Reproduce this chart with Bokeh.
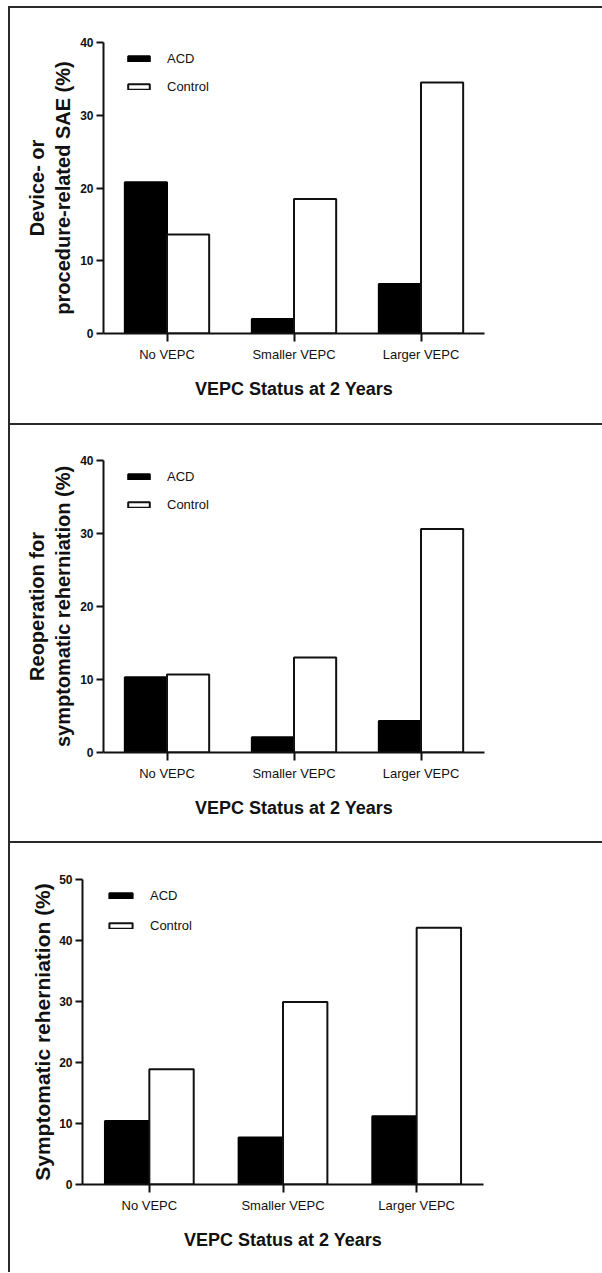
from bokeh.plotting import figure
from bokeh.models import ColumnDataSource, FactorRange, FixedTicker, Legend, LegendItem
from bokeh.transform import dodge
from bokeh.embed import file_html
from bokeh.resources import INLINE

categories = ["No VEPC", "Smaller VEPC", "Larger VEPC"]
sae_acd = [20.8, 2.0, 6.8]
sae_control = [13.6, 18.5, 34.5]
reop_acd = [10.3, 2.1, 4.3]
reop_control = [10.7, 13.0, 30.6]
rehern_acd = [10.4, 7.7, 11.2]
rehern_control = [18.9, 29.9, 42.1]
series_names = ["ACD", "Control"]
x_title = "VEPC Status at 2 Years"

FONT = "Liberation Sans"
INK = "#111111"


def panel(acd, ctrl, ymax, yticks, ytitle, ytitle_size, fw, fh, bl, bt, bb, br,
          leg_x, leg_y, leg_spacing, glyph_w, ytitle_standoff, top_margin):
    src = ColumnDataSource(dict(cat=categories, acd=acd, ctrl=ctrl))
    p = figure(x_range=FactorRange(*categories, range_padding=0),
               y_range=(0, ymax),
               frame_width=fw, frame_height=fh,
               min_border_left=bl, min_border_top=bt,
               min_border_bottom=bb, min_border_right=br,
               output_backend="svg", toolbar_location=None,
               background_fill_color="white", border_fill_color="white")
    p.margin = (top_margin, 0, 0, 8)
    p.styles = {"border-top": "2px solid #2a2a2a", "border-left": "2px solid #2a2a2a"}
    r1 = p.vbar(x=dodge("cat", -0.166, range=p.x_range), top="acd", width=0.332,
                source=src, fill_color="black", line_color="black", line_width=2)
    r2 = p.vbar(x=dodge("cat", 0.166, range=p.x_range), top="ctrl", width=0.332,
                source=src, fill_color="white", line_color=INK, line_width=2)
    p.outline_line_color = None
    p.xgrid.grid_line_color = None
    p.ygrid.grid_line_color = None

    p.yaxis.ticker = FixedTicker(ticks=yticks)
    p.yaxis.minor_tick_line_color = None
    p.yaxis.major_tick_out = 7
    p.yaxis.major_tick_in = 0
    p.yaxis.major_label_standoff = 3
    p.yaxis.major_label_text_font = FONT
    p.yaxis.major_label_text_font_style = "bold"
    p.yaxis.major_label_text_font_size = "12px"
    p.yaxis.major_label_text_color = INK
    p.yaxis.axis_line_width = 2
    p.yaxis.major_tick_line_width = 2
    p.yaxis.axis_line_color = INK
    p.yaxis.major_tick_line_color = INK
    p.yaxis.axis_label = ytitle
    p.yaxis.axis_label_text_font = FONT
    p.yaxis.axis_label_text_font_style = "bold"
    p.yaxis.axis_label_text_font_size = ytitle_size
    p.yaxis.axis_label_text_color = INK
    p.yaxis.axis_label_standoff = ytitle_standoff

    p.xaxis.major_tick_out = 8
    p.xaxis.major_tick_in = 0
    p.xaxis.axis_line_width = 2
    p.xaxis.major_tick_line_width = 2
    p.xaxis.axis_line_color = INK
    p.xaxis.major_tick_line_color = INK
    p.xaxis.major_label_standoff = 5
    p.xaxis.major_label_text_font = FONT
    p.xaxis.major_label_text_font_size = "13px"
    p.xaxis.major_label_text_color = INK
    p.xaxis.axis_label = x_title
    p.xaxis.axis_label_text_font = FONT
    p.xaxis.axis_label_text_font_style = "bold"
    p.xaxis.axis_label_text_font_size = "18px"
    p.xaxis.axis_label_text_color = INK
    p.xaxis.axis_label_standoff = 14

    legend = Legend(items=[LegendItem(label=series_names[0], renderers=[r1]),
                           LegendItem(label=series_names[1], renderers=[r2])],
                    location=(leg_x, leg_y), padding=0, margin=0, spacing=leg_spacing,
                    glyph_width=glyph_w, glyph_height=7, label_height=20,
                    label_standoff=15, border_line_color=None,
                    background_fill_alpha=0,
                    label_text_font=FONT, label_text_font_size="13px",
                    label_text_color=INK)
    p.add_layout(legend)
    return p


p1 = panel(sae_acd, sae_control, 40, [0, 10, 20, 30, 40],
           "Device- or\nprocedure-related SAE (%)", "20px",
           381, 291, 93, 34, 90, 118, 22, 237, 8, 27, 3, 6)
p2 = panel(reop_acd, reop_control, 40, [0, 10, 20, 30, 40],
           "Reoperation for\nsymptomatic reherniation (%)", "20px",
           381, 292, 93, 35, 89, 118, 22, 238, 8, 27, 3, 0)
p3 = panel(rehern_acd, rehern_control, 50, [0, 10, 20, 30, 40, 50],
           "Symptomatic reherniation (%)", "21px",
           401, 305, 72, 36, 88, 119, 24, 249, 10, 29, 2, 0)

open("out.html", "w").write(file_html([p1, p2, p3], INLINE))
